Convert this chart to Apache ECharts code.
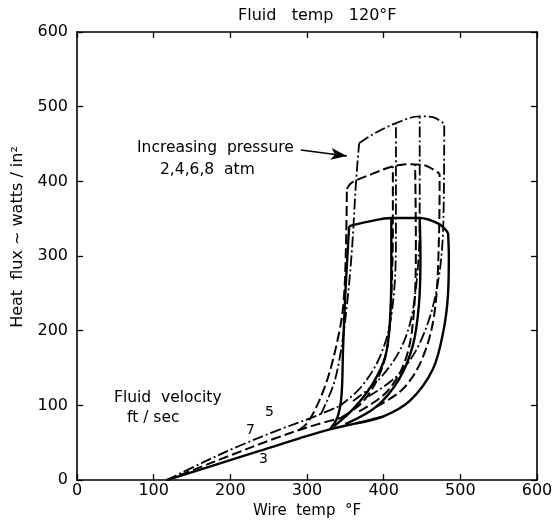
<!DOCTYPE html>
<html><head><meta charset="utf-8">
<script src="https://cdn.jsdelivr.net/npm/echarts@6/dist/echarts.min.js"></script>
<style>html,body{margin:0;padding:0;background:#fff}#c{width:556px;height:524px}</style>
</head><body><div id="c"></div>
<script>
// Axis ticks
const xTicks = [0, 100, 200, 300, 400, 500, 600];
const yTicks = [0, 100, 200, 300, 400, 500, 600];

// Forced-convection lines (velocity ft/sec)
const v3Base = [[117,0],[170,17],[238,39],[290,56],[330,68],[364,76],[399,85]];
const v7Base = [[117,0],[160,17],[200,33],[256,55],[308,73],[351,85]];
const v5Base = [[117,0],[165,24],[210,45],[260,66],[312,86],[342,99]];

// Velocity 3 (solid) boiling curves, pressures 2,4,6,8 atm
const v3p2 = [[330,68],[340,85],[345,113],[347,175],[350,250],[355,340]];
const v3p4 = [[335,72],[360,95],[385,128],[402,165],[408,210],[410,280],[410,351]];
const v3p6 = [[350,75],[390,98],[420,135],[438,180],[446,235],[448,300],[447,351]];
const v3p8 = [[364,76],[399,85],[434,106],[464,148],[478,200],[484,250],[485,300],[484,331]];
const v3Cap = [[355,340],[380,346],[410,351],[447,351],[472,343],[484,331]];

// Velocity 7 (dashed)
const v7p2 = [[290,67],[303,80],[325,130],[342,198],[348,242],[351,320],[352,390]];
const v7p4 = [[345,84],[372,104],[394,140],[405,180],[410,250],[412,340],[412,420]];
const v7p6 = [[368,92],[404,118],[428,160],[439,220],[442,320],[441,423]];
const v7p8 = [[390,98],[425,122],[450,162],[466,222],[472,320],[473,410]];
const v7Cap = [[352,390],[358,398],[385,410],[412,420],[434,423],[455,421],[473,410]];

// Velocity 5 (dash-dot)
const v5p2 = [[318,88],[334,126],[342,160],[350,215],[358,300],[364,400],[368,451]];
const v5p4 = [[342,99],[370,124],[395,165],[410,220],[416,320],[416,478]];
const v5p6 = [[360,106],[395,136],[425,182],[440,240],[447,350],[447,487]];
const v5p8 = [[380,112],[420,142],[450,190],[470,260],[478,350],[479,477]];
const v5Cap = [[368,451],[386,463],[416,478],[447,487],[464,486],[479,477]];

// Arrow annotation (data coordinates)
const arrowFrom = [292, 442];
const arrowTo = [352, 434];

const FONT = '"DejaVu Sans"';
const SOLID = {color:'#000', width:2.4, type:'solid'};
const DASH = {color:'#000', width:2, type:[10,4]};
const DASHDOT = {color:'#000', width:1.8, type:[11,3,2,3]};

function ser(data, ls){
  return {type:'line', data:data, showSymbol:false, symbol:'none', smooth:0.35,
          lineStyle:ls, z:2, silent:true, animation:false};
}

const series = [
  ser(v3Base, SOLID), ser(v3p2, SOLID), ser(v3p4, SOLID), ser(v3p6, SOLID), ser(v3p8, SOLID), ser(v3Cap, SOLID),
  ser(v7Base, DASH), ser(v7p2, DASH), ser(v7p4, DASH), ser(v7p6, DASH), ser(v7p8, DASH), ser(v7Cap, DASH),
  ser(v5Base, DASHDOT), ser(v5p2, DASHDOT), ser(v5p4, DASHDOT), ser(v5p6, DASHDOT), ser(v5p8, DASHDOT), ser(v5Cap, DASHDOT)
];
series.push({type:'line', data:[], markLine:{silent:true, symbol:['none','arrow'], symbolSize:[9,16],
  label:{show:false}, lineStyle:{color:'#000', width:1.5, type:'solid'},
  data:[[{coord:arrowFrom},{coord:arrowTo}]]}, animation:false});

function axisBase(){
  return {
    type:'value', min:0, max:600, interval:100,
    axisLine:{show:true, onZero:false, lineStyle:{color:'#000', width:1.6}},
    axisTick:{show:true, inside:true, length:6, lineStyle:{color:'#000', width:1.3}},
    splitLine:{show:false}
  };
}

const chart = echarts.init(document.getElementById('c'), null, {renderer:'canvas'});
chart.setOption({
  animation:false,
  backgroundColor:'#fff',
  grid:{left:77, right:19, top:32, bottom:43},
  xAxis:[
    Object.assign(axisBase(), {position:'bottom',
      name:'Wire  temp  °F', nameLocation:'middle', nameGap:14,
      nameTextStyle:{fontFamily:'DejaVu Sans', fontSize:15, color:'#000'},
      axisLabel:{fontFamily:'DejaVu Sans', fontSize:16, color:'#000', margin:3}}),
    Object.assign(axisBase(), {position:'top', axisLabel:{show:false}})
  ],
  yAxis:[
    Object.assign(axisBase(), {position:'left',
      axisLabel:{fontFamily:'DejaVu Sans', fontSize:16, color:'#000', margin:9}}),
    Object.assign(axisBase(), {position:'right', axisLabel:{show:false}})
  ],
  graphic:[
    {type:'text', x:18, y:237, rotation:Math.PI/2,
      style:{text:'Heat  flux ~ watts / in²', font:'16px ' + FONT, fill:'#000', align:'center', verticalAlign:'middle'}},
    {type:'text', left:238, top:8, style:{text:'Fluid   temp   120°F', font:'16px ' + FONT, fill:'#000'}},
    {type:'text', left:137, top:140, style:{text:'Increasing  pressure', font:'15.5px ' + FONT, fill:'#000'}},
    {type:'text', left:160, top:162, style:{text:'2,4,6,8  atm', font:'15.5px ' + FONT, fill:'#000'}},
    {type:'text', left:114, top:390, style:{text:'Fluid  velocity', font:'15.5px ' + FONT, fill:'#000'}},
    {type:'text', left:127, top:410, style:{text:'ft / sec', font:'15.5px ' + FONT, fill:'#000'}},
    {type:'text', left:265, top:405, style:{text:'5', font:'14px ' + FONT, fill:'#000'}},
    {type:'text', left:246, top:423, style:{text:'7', font:'14px ' + FONT, fill:'#000'}},
    {type:'text', left:259, top:452, style:{text:'3', font:'14px ' + FONT, fill:'#000'}}
  ],
  series: series
});
</script></body></html>
